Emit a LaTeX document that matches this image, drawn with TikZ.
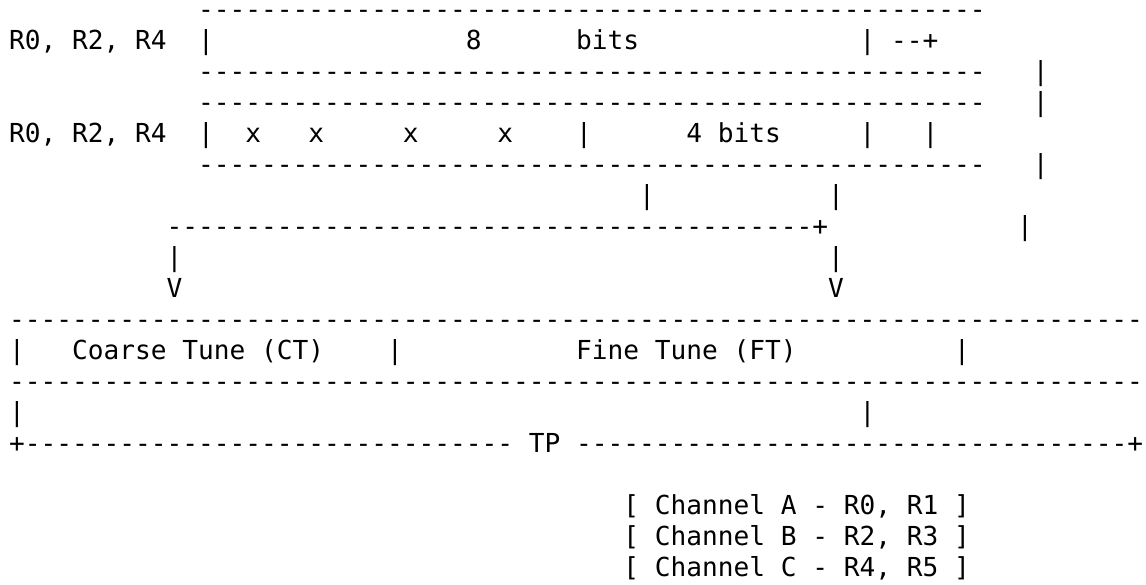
\documentclass[tikz,border=0pt]{standalone}
\usepackage{fontspec}
\setmonofont{DejaVu Sans Mono}

% a run of n hyphens for the ruled lines
\newcommand\dashrun[1]{\foreach \k in {1,...,#1}{-}}

\tikzset{
  ascii/.style={anchor=base west, inner sep=0pt, outer sep=0pt,
    font=\ttfamily\fontsize{26.16pt}{31pt}\selectfont},
}

\begin{document}
\begin{tikzpicture}[x=15.75pt,y=-31pt]
\useasboundingbox (-9.1pt,18.8pt) rectangle (1136.9pt,-566.2pt);

% 8 bit register
\node[ascii] (rTop) at (12,0) {\dashrun{50}};
\node[ascii] (regA) at (0,1) {R0, R2, R4};
\node[ascii] (barA) at (12,1) {|};
\node[ascii] (eight) at (29,1) {8};
\node[ascii] (bitsA) at (36,1) {bits};
\node[ascii] (barB) at (54,1) {|};
\node[ascii] (outA) at (56,1) {--+};
\node[ascii] (rMid) at (12,2) {\dashrun{50}};
\node[ascii] (sideA) at (65,2) {|};

% 4 bit register
\node[ascii] (rTopB) at (12,3) {\dashrun{50}};
\node[ascii] (sideB) at (65,3) {|};
\node[ascii] (regB) at (0,4) {R0, R2, R4};
\node[ascii] (barC) at (12,4) {|};
\foreach \c [count=\n] in {15,19,25,31}
  \node[ascii] (x\n) at (\c,4) {x};
\node[ascii] (barD) at (36,4) {|};
\node[ascii] (bitsB) at (43,4) {4 bits};
\node[ascii] (barE) at (54,4) {|};
\node[ascii] (barF) at (58,4) {|};
\node[ascii] (rBot) at (12,5) {\dashrun{50}};
\node[ascii] (sideC) at (65,5) {|};

% routing down to the tune fields
\node[ascii] (dropA) at (40,6) {|};
\node[ascii] (dropB) at (52,6) {|};
\node[ascii] (join) at (10,7) {\dashrun{41}+};
\node[ascii] (sideD) at (64,7) {|};
\node[ascii] (downA) at (10,8) {|};
\node[ascii] (downB) at (52,8) {|};
\node[ascii] (arrA) at (10,9) {V};
\node[ascii] (arrB) at (52,9) {V};

% tone period
\node[ascii] (tpTop) at (0,10) {\dashrun{72}};
\node[ascii] (tpL) at (0,11) {|};
\node[ascii] (ct) at (4,11) {Coarse Tune (CT)};
\node[ascii] (tpM) at (24,11) {|};
\node[ascii] (ft) at (36,11) {Fine Tune (FT)};
\node[ascii] (tpR) at (60,11) {|};
\node[ascii] (tpBot) at (0,12) {\dashrun{72}};
\node[ascii] (brL) at (0,13) {|};
\node[ascii] (brR) at (54,13) {|};
\node[ascii] (brace) at (0,14) {+\dashrun{31}};
\node[ascii] (tp) at (33,14) {TP};
\node[ascii] (braceR) at (36,14) {\dashrun{35}+};

% channels
\node[ascii] (chA) at (39,16) {[ Channel A - R0, R1 ]};
\node[ascii] (chB) at (39,17) {[ Channel B - R2, R3 ]};
\node[ascii] (chC) at (39,18) {[ Channel C - R4, R5 ]};
\end{tikzpicture}
\end{document}
